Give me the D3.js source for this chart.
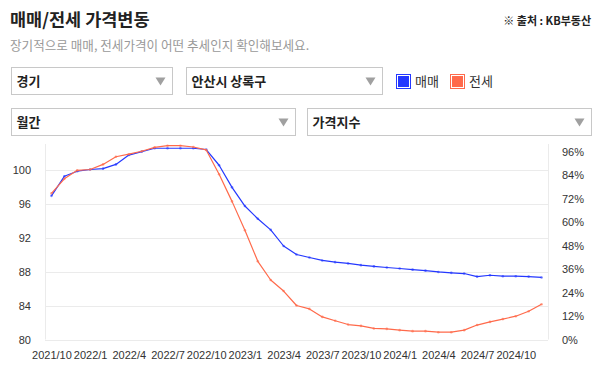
<!DOCTYPE html>
<html>
<head>
<meta charset="utf-8">
<script src="https://cdn.jsdelivr.net/npm/d3@7/dist/d3.min.js"></script>
<style>
  html, body { margin: 0; padding: 0; background: #fff; }
  svg { display: block; }
  .kr { font-family: "Noto Sans CJK KR", "Noto Sans", sans-serif; }
  .num { font-family: "Liberation Sans", Arial, sans-serif; font-size: 11px; fill: #333; }
</style>
</head>
<body>
<svg id="chart" width="601" height="376"></svg>
<script>
// ---- data ----
const months = [
  "2021/10","2021/11","2021/12",
  "2022/1","2022/2","2022/3","2022/4","2022/5","2022/6","2022/7","2022/8","2022/9","2022/10","2022/11","2022/12",
  "2023/1","2023/2","2023/3","2023/4","2023/5","2023/6","2023/7","2023/8","2023/9","2023/10","2023/11","2023/12",
  "2024/1","2024/2","2024/3","2024/4","2024/5","2024/6","2024/7","2024/8","2024/9","2024/10","2024/11","2024/12"
];
const saleIndex = [
  96.9, 99.2, 99.8, 100.0, 100.1, 100.6, 101.7, 102.1, 102.5, 102.5, 102.5, 102.5, 102.35,
  100.5, 97.9, 95.7, 94.2, 92.9, 91.0, 90.0, 89.65, 89.3, 89.1, 88.95, 88.75, 88.6,
  88.47, 88.35, 88.22, 88.1, 87.95, 87.84, 87.76, 87.4, 87.56, 87.45, 87.45, 87.4, 87.3
];
const jeonseIndex = [
  97.2, 98.9, 99.9, 100.0, 100.6, 101.5, 101.8, 102.15, 102.6, 102.8, 102.8, 102.65, 102.3,
  99.45, 96.25, 92.85, 89.2, 87.0, 85.7, 84.0, 83.6, 82.66, 82.2, 81.76, 81.6, 81.3,
  81.25, 81.1, 80.98, 80.98, 80.86, 80.86, 81.1, 81.7, 82.07, 82.4, 82.74, 83.33, 84.15
];
const xTickLabels = ["2021/10","2022/1","2022/4","2022/7","2022/10","2023/1","2023/4","2023/7","2023/10","2024/1","2024/4","2024/7","2024/10"];
const leftTicks = [80, 84, 88, 92, 96, 100];
const rightTicks = [0, 12, 24, 36, 48, 60, 72, 84, 96];
const seriesNames = ["매매", "전세"];
const seriesColors = ["#2438ff", "#ff6a4b"];

// ---- layout ----
const svg = d3.select("#chart");
const plot = { left: 45, right: 548, top: 144, bottom: 339.5 };

// header
svg.append("text").attr("class", "kr").attr("x", 10).attr("y", 26)
  .attr("font-size", 17.5).attr("font-weight", 700).attr("fill", "#222")
  .text("매매/전세 가격변동");
svg.append("text").attr("class", "kr").attr("x", 591).attr("y", 25)
  .attr("text-anchor", "end").attr("font-size", 11).attr("font-weight", 700).attr("fill", "#222")
  .text("※ 출처 : KB부동산");
svg.append("text").attr("class", "kr").attr("x", 10).attr("y", 50)
  .attr("font-size", 12.6).attr("fill", "#999")
  .text("장기적으로 매매, 전세가격이 어떤 추세인지 확인해보세요.");

// dropdowns
const selects = [
  { label: "경기", x: 11.5, y: 67.5, w: 161 },
  { label: "안산시 상록구", x: 186.5, y: 67.5, w: 196 },
  { label: "월간", x: 11.5, y: 108.5, w: 284 },
  { label: "가격지수", x: 307.5, y: 108.5, w: 284 }
];
const sel = svg.selectAll("g.sel").data(selects).join("g").attr("class", "sel")
  .attr("transform", d => `translate(${d.x},${d.y})`);
sel.append("rect").attr("width", d => d.w).attr("height", 27)
  .attr("fill", "#fff").attr("stroke", "#c8c8c8").attr("stroke-width", 1);
sel.append("text").attr("class", "kr").attr("x", 5).attr("y", 13.5).attr("dy", "0.36em")
  .attr("font-size", 13).attr("font-weight", 700).attr("fill", "#222").text(d => d.label);
sel.append("path")
  .attr("d", d => `M${d.w - 17},${10} L${d.w - 7},${10} L${d.w - 12},${18} Z`)
  .attr("fill", "#a0a0a0");

// legend
const leg = svg.selectAll("g.leg").data(seriesNames).join("g").attr("class", "leg")
  .attr("transform", (d, i) => `translate(${396 + i * 54},74)`);
leg.append("rect").attr("x", 0.5).attr("y", 0.5).attr("width", 14).attr("height", 14)
  .attr("fill", "#fff").attr("stroke", (d, i) => seriesColors[i]).attr("stroke-width", 1);
leg.append("rect").attr("x", 2).attr("y", 2).attr("width", 11).attr("height", 11)
  .attr("fill", (d, i) => seriesColors[i]);
leg.append("text").attr("class", "kr").attr("x", 19).attr("y", 7.5).attr("dy", "0.36em")
  .attr("font-size", 13).attr("fill", "#333").text(d => d);

// scales
const x = d3.scalePoint().domain(months).range([plot.left, plot.right]).padding(0.5);
const yL = d3.scaleLinear().domain([80, 103]).range([plot.bottom, plot.top]);
const yR = d3.scaleLinear().domain([0, 100]).range([plot.bottom, plot.top]);

// grid
svg.append("g").selectAll("line").data(leftTicks).join("line")
  .attr("x1", plot.left).attr("x2", plot.right)
  .attr("y1", d => Math.round(yL(d)) + 0.5).attr("y2", d => Math.round(yL(d)) + 0.5)
  .attr("stroke", "#ebebeb").attr("stroke-width", 1);
svg.append("g").selectAll("line").data([plot.left, plot.right]).join("line")
  .attr("x1", d => d + 0.5).attr("x2", d => d + 0.5)
  .attr("y1", plot.top).attr("y2", plot.bottom)
  .attr("stroke", "#ebebeb").attr("stroke-width", 1);

// axes
const axL = svg.append("g").attr("transform", `translate(${plot.left},0)`)
  .call(d3.axisLeft(yL).tickValues(leftTicks).tickSize(0).tickPadding(14));
const axR = svg.append("g").attr("transform", `translate(${plot.right},0)`)
  .call(d3.axisRight(yR).tickValues(rightTicks).tickSize(0).tickPadding(14).tickFormat(d => d + "%"));
const axB = svg.append("g").attr("transform", `translate(0,${plot.bottom})`)
  .call(d3.axisBottom(x).tickValues(xTickLabels).tickSize(0).tickPadding(12));
[axL, axR, axB].forEach(a => {
  a.select(".domain").remove();
  a.selectAll("text").attr("class", "num").attr("font-family", null).attr("font-size", null);
});

// lines
const series = [saleIndex, jeonseIndex];
const line = d3.line().x((d, i) => x(months[i])).y(d => yL(d));
series.forEach((vals, s) => {
  svg.append("path").datum(vals).attr("d", line)
    .attr("fill", "none").attr("stroke", seriesColors[s]).attr("stroke-width", 1.2)
    .attr("stroke-linejoin", "round");
  svg.append("g").selectAll("circle").data(vals).join("circle")
    .attr("cx", (d, i) => x(months[i])).attr("cy", d => yL(d)).attr("r", 1.3)
    .attr("fill", seriesColors[s]).attr("fill-opacity", 0.6);
});
</script>
</body>
</html>
